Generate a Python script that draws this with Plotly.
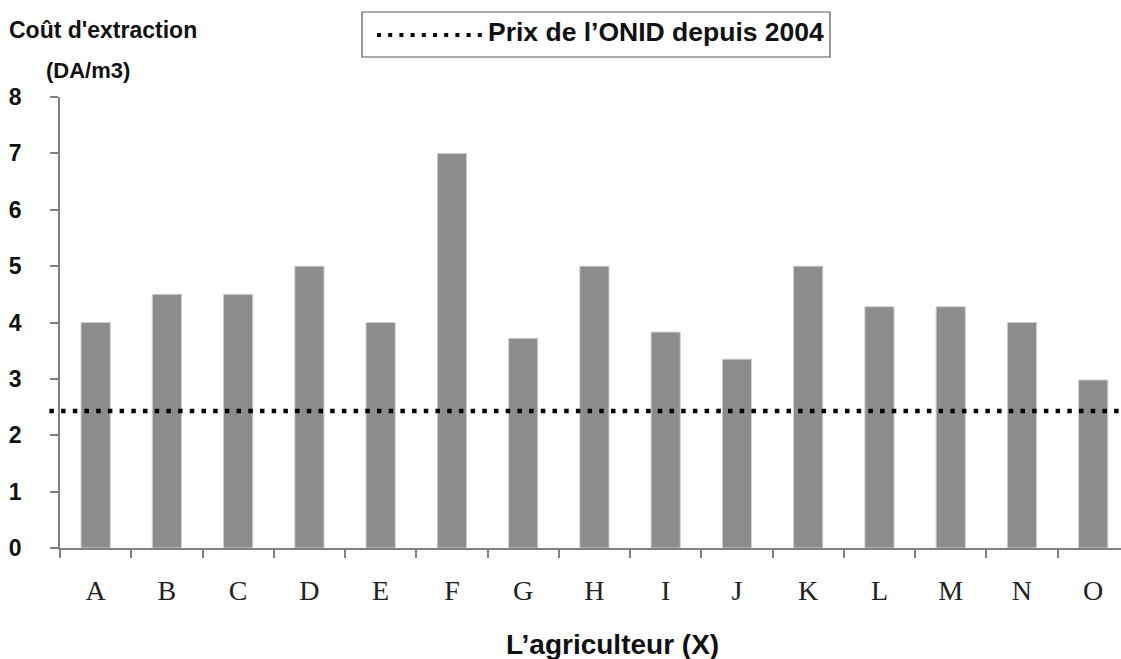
import plotly.graph_objects as go

# Coût d'extraction de l'eau par agriculteur (DA/m3)
agriculteurs = ["A", "B", "C", "D", "E", "F", "G", "H", "I", "J", "K", "L", "M", "N", "O"]
cout_extraction = [4.0, 4.5, 4.5, 5.0, 4.0, 7.0, 3.72, 5.0, 3.83, 3.35, 5.0, 4.28, 4.28, 4.0, 2.98]

# Prix de l'eau fixé par l'ONID depuis 2004 (DA/m3)
prix_onid = 2.43

y_ticks = [0, 1, 2, 3, 4, 5, 6, 7, 8]

W, H = 1121, 659
ML, MR, MT, MB = 60, 0, 97, 111
PW, PH = W - ML - MR, H - MT - MB


def px_x(px):
    return (px - ML) / PW


def px_y(py):
    return (H - MB - py) / PH


AXIS_COLOR = "#808080"
SANS = "Liberation Sans, Arial, sans-serif"

fig = go.Figure()
fig.add_trace(go.Bar(
    x=agriculteurs,
    y=cout_extraction,
    width=0.41,
    marker=dict(color="#8c8c8c", line=dict(color="#d0d0d0", width=1)),
    showlegend=False,
    hoverinfo="x+y",
))

# ONID price line across the plot
fig.add_shape(
    type="line", xref="paper", yref="y",
    x0=-0.01, x1=1.0, y0=prix_onid, y1=prix_onid,
    line=dict(color="black", width=4.5, dash="4.5px,7.2px"),
)

# Framed legend: dotted sample + label
fig.add_shape(
    type="rect", xref="paper", yref="paper",
    x0=px_x(362), x1=px_x(830), y0=px_y(57), y1=px_y(12),
    line=dict(color="#555555", width=1.2), fillcolor="white",
)
fig.add_shape(
    type="line", xref="paper", yref="paper",
    x0=px_x(377), x1=px_x(484), y0=px_y(35), y1=px_y(35),
    line=dict(color="black", width=4, dash="4px,7.2px"),
)
fig.add_annotation(
    x=px_x(486), y=px_y(32), xref="paper", yref="paper",
    xanchor="left", yanchor="middle", showarrow=False,
    text="<b>Prix de l’ONID depuis 2004</b>",
    font=dict(family=SANS, size=26.5, color="#111111"),
)

# Y-axis title (two lines)
fig.add_annotation(
    x=px_x(7), y=px_y(30), xref="paper", yref="paper",
    xanchor="left", yanchor="middle", showarrow=False,
    text="<b>Coût d'extraction</b>",
    font=dict(family=SANS, size=23, color="#111111"),
)
fig.add_annotation(
    x=px_x(44), y=px_y(70), xref="paper", yref="paper",
    xanchor="left", yanchor="middle", showarrow=False,
    text="<b>(DA/m3)</b>",
    font=dict(family=SANS, size=22, color="#111111"),
)

# X-axis title
fig.add_annotation(
    x=px_x(612), y=px_y(644), xref="paper", yref="paper",
    xanchor="center", yanchor="middle", showarrow=False,
    text="<b>L’agriculteur (X)</b>",
    font=dict(family=SANS, size=28, color="#111111"),
)

fig.update_layout(
    width=W, height=H,
    margin=dict(l=ML, r=MR, t=MT, b=MB, pad=0),
    paper_bgcolor="white", plot_bgcolor="white",
    bargap=0.59,
    xaxis=dict(
        type="category",
        range=[-0.5, 14.39],
        showline=True, linecolor=AXIS_COLOR, linewidth=1.5,
        ticks="outside", ticklen=8, tickwidth=1.5, tickcolor=AXIS_COLOR,
        tickson="boundaries",
        showgrid=False, zeroline=False,
        tickfont=dict(family="Liberation Serif, Times New Roman, serif", size=28, color="#222222"),
        ticklabelstandoff=17,
    ),
    yaxis=dict(
        range=[0, 8],
        tickvals=y_ticks,
        ticktext=[f"<b>{v}</b>" for v in y_ticks],
        showline=True, linecolor=AXIS_COLOR, linewidth=1.5,
        ticks="outside", ticklen=8, tickwidth=1.5, tickcolor=AXIS_COLOR,
        showgrid=False, zeroline=False,
        tickfont=dict(family=SANS, size=23, color="#111111"),
        ticklabelstandoff=24,
    ),
)

fig.write_html("out.html")
